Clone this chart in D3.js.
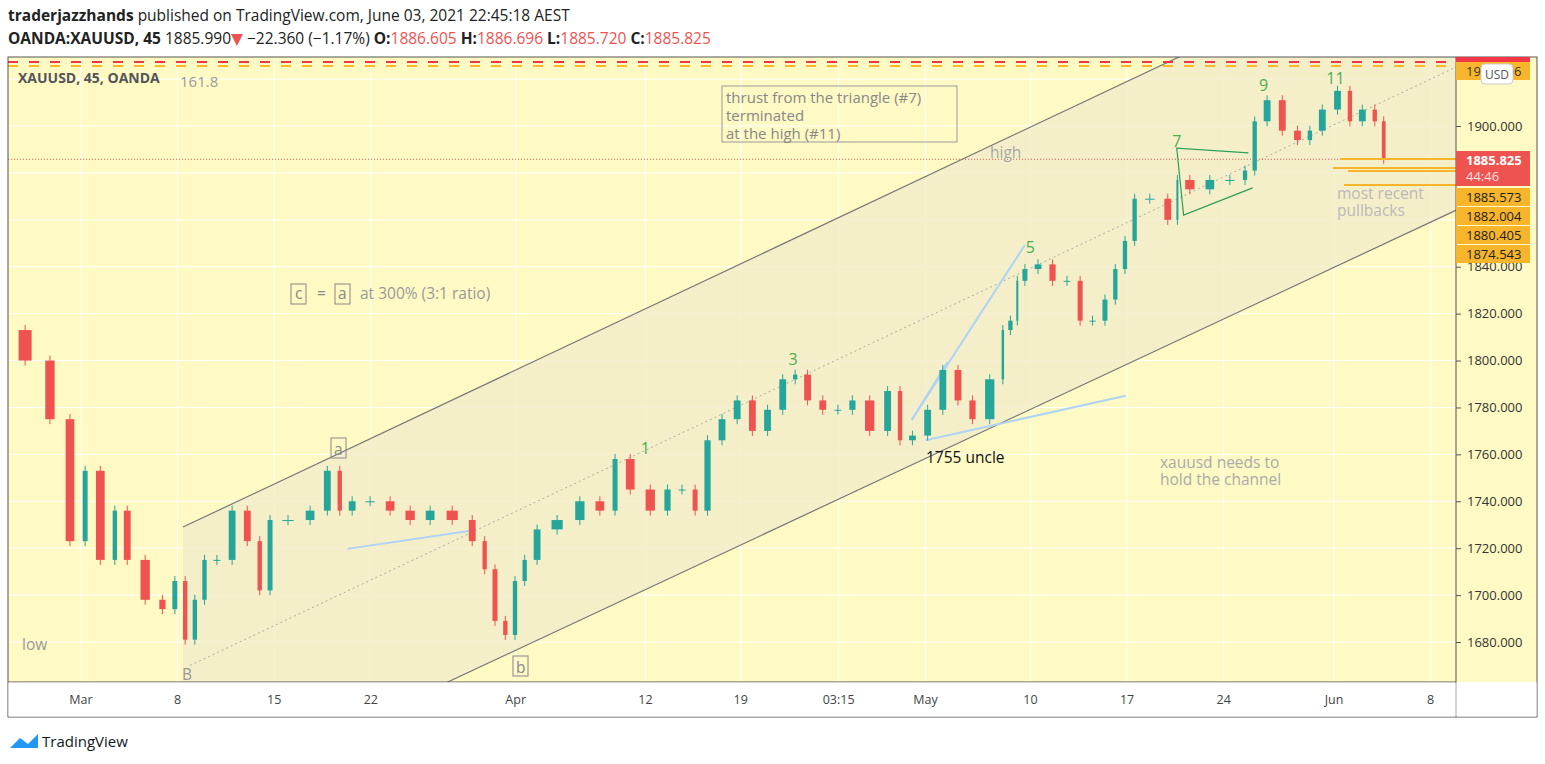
<!DOCTYPE html>
<html><head><meta charset="utf-8">
<script src="https://cdn.jsdelivr.net/npm/d3@7"></script>
<style>body{margin:0;background:#fff;font-family:"Open Sans","DejaVu Sans",sans-serif}</style>
</head><body><svg id="c" width="1545" height="764"></svg>
<script>
// days since Mar 1 (trading-time axis), close prices
const times=[-5.1,-3.0,-1.5,-0.1,0.7,2.1,2.8,3.9,5.4,6.4,7.2,7.9,8.6,9.3,10.4,11.5,12.6,13.3,14.1,15.9,17.3,18.4,19.1,20.2,21.7,23.1,24.6,26.0,27.8,28.9,29.6,30.4,31.1,31.8,32.5,33.6,35.4,36.9,38.3,39.1,40.5,42.0,43.0,44.1,44.9,45.9,47.0,48.1,49.2,50.3,51.4,52.1,53.2,54.3,55.4,56.4,57.9,59.0,59.7,60.8,61.9,63.0,64.1,65.1,66.6,67.0,67.7,68.0,68.8,69.9,70.9,72.0,72.8,73.8,74.6,75.3,76.0,76.7,78.2,79.3,79.6,81.1,82.5,84.0,84.7,85.4,86.5,87.6,88.7,89.4,90.5,91.6,92.3,93.4,94.1,94.7];
const closes=[1813,1800,1775,1723,1753,1715,1736,1715,1698,1694,1706,1681,1698,1715,1715,1736,1723,1702,1732,1732,1736,1753,1736,1740,1740,1736,1732,1736,1732,1723,1711,1689,1683,1706,1715,1728,1732,1740,1736,1758,1745,1736,1745,1745,1736,1766,1775,1783,1770,1779,1792,1794,1783,1779,1779,1783,1770,1787,1766,1768,1779,1796,1783,1775,1792,1813,1817,1834,1839,1841,1834,1834,1817,1817,1826,1839,1851,1869,1869,1860,1877,1873,1877,1877,1881,1902,1911,1898,1894,1898,1907,1915,1902,1907,1902,1886];
const yTicks=[1680,1700,1720,1740,1760,1780,1800,1820,1840,1900];
const xTickPos=[0,7,14,21,31.5,40.9,47.8,54.9,61.2,68.8,75.8,82.8,90.8,97.8];
const xTickLabels=["Mar","8","15","22","Apr","12","19","03:15","May","10","17","24","Jun","8"];
const levelPrices=[1885.573,1882.004,1880.405,1874.543];
const levelLabels=["1885.573","1882.004","1880.405","1874.543"];
const waveLabels=["1","3","5","7","9","11"];
const waveT=[40.9,51.6,68.8,79.4,85.7,90.9];
const waveP=[1760,1798,1846,1891,1915,1918];

const svg=d3.select("#c");
const L=8,R=1456,T=57,B=682;
const x=d3.scaleLinear().domain([0,100]).range([81,81+1380]);
const y=d3.scaleLinear().domain([1680,1900]).range([642,126]);
svg.append("rect").attr("x",L).attr("y",T).attr("width",1537-L).attr("height",B-T).attr("fill","#fff9c4");
svg.append("defs").append("clipPath").attr("id","cp").append("rect").attr("x",L).attr("y",T).attr("width",R-L).attr("height",B-T);
const g=svg.append("g").attr("clip-path","url(#cp)");
yTicks.concat([1860,1880,1920]).forEach(v=>g.append("line").attr("x1",L).attr("x2",R).attr("y1",y(v)).attr("y2",y(v)).attr("stroke","#fff"));
xTickPos.forEach(v=>g.append("line").attr("x1",x(v)).attr("x2",x(v)).attr("y1",T).attr("y2",B).attr("stroke","#fff"));
const up=t=>1729+(t-7.39)*2.777, lo=t=>1663+(t-26.6)*2.753;
const t0=7.39,t1=110;
g.append("path").attr("d",d3.line()([[x(t0),y(up(t0))],[x(t1),y(up(t1))],[x(t1),y(lo(t1))],[x(t0),y(lo(t0))]])+"Z").attr("fill","#f2ecca").attr("opacity",0.8);
g.append("line").attr("x1",x(t0)).attr("y1",y(up(t0))).attr("x2",x(t1)).attr("y2",y(up(t1))).attr("stroke","#787878").attr("stroke-width",1.2);
g.append("line").attr("x1",x(t0)).attr("y1",y(lo(t0))).attr("x2",x(t1)).attr("y2",y(lo(t1))).attr("stroke","#787878").attr("stroke-width",1.2);
g.append("line").attr("x1",x(7.9)).attr("y1",y(1670)).attr("x2",x(99.6)).attr("y2",y(1925)).attr("stroke","#aaa").attr("stroke-dasharray","2,3");
g.append("line").attr("x1",L).attr("x2",R).attr("y1",y(1927.3)).attr("y2",y(1927.3)).attr("stroke","#f23645").attr("stroke-width",2).attr("stroke-dasharray","10,11");
g.append("line").attr("x1",L).attr("x2",R).attr("y1",y(1925.6)).attr("y2",y(1925.6)).attr("stroke","#fbb829").attr("stroke-width",2).attr("stroke-dasharray","10,11");
g.append("line").attr("x1",L).attr("x2",R).attr("y1",y(1885.825)).attr("y2",y(1885.825)).attr("stroke","#ef5350").attr("stroke-dasharray","1,2");
[[19.3,1719.7,28.6,1727.8],[60.2,1774.7,68.4,1849.3],[60.2,1774.7,62.8,1799.4],[61.2,1766,75.7,1785]].forEach(a=>g.append("line").attr("x1",x(a[0])).attr("y1",y(a[1])).attr("x2",x(a[2])).attr("y2",y(a[3])).attr("stroke","#aed3f5").attr("stroke-width",2));
for(let i=1;i<times.length;i++){
  const o=closes[i-1],c=closes[i],xm=x((times[i-1]+times[i])/2),w=Math.max(2,(x(times[i])-x(times[i-1]))*0.45);
  const col=c>=o?"#26a69a":"#ef5350";
  g.append("line").attr("x1",xm).attr("x2",xm).attr("y1",y(Math.max(o,c))-5).attr("y2",y(Math.min(o,c))+5).attr("stroke",col);
  g.append("rect").attr("x",xm-w/2).attr("width",w).attr("y",y(Math.max(o,c))).attr("height",Math.max(1,Math.abs(y(o)-y(c)))).attr("fill",col);
}
g.append("path").attr("d",d3.line()([[x(84.6),y(1888.5)],[x(79.4),y(1890.6)],[x(79.9),y(1862)],[x(84.9),y(1873.6)]])).attr("fill","none").attr("stroke","#2e9e5a").attr("stroke-width",1.2);
const lvY=[159,168,171,185];
[[1340,0],[1333,1],[1348,2],[1344,3]].forEach(([sx,i])=>g.append("line").attr("x1",sx).attr("x2",R).attr("y1",lvY[i]).attr("y2",lvY[i]).attr("stroke","#f7b52c").attr("stroke-width",2));
const txt=(t,px,py,o)=>{const e=g.append("text").attr("x",px).attr("y",py).text(t).attr("font-size",(o&&o.s)||15.5).attr("fill",(o&&o.c)||"#9c9c9c");if(o&&o.w)e.attr("font-weight",o.w);return e;};
txt("XAUUSD, 45, OANDA",18,83,{c:"#555",w:"bold",s:14});
txt("161.8",180,87,{s:15});
waveLabels.forEach((l,i)=>g.append("text").attr("x",x(waveT[i])).attr("y",y(waveP[i])).attr("text-anchor","middle").attr("font-size",16).attr("fill","#4caf50").text(l));
g.append("rect").attr("x",722).attr("y",86).attr("width",235).attr("height",56).attr("fill","none").attr("stroke","#999");
["thrust from the triangle (#7)","terminated","at the high (#11)"].forEach((s,i)=>txt(s,726,103+i*18,{c:"#888",s:15}));
txt("high",990,158,{c:"#a8a8a8"});
txt("c",295,299,{c:"#888"});txt("=",317,299,{c:"#888"});txt("a",338,299,{c:"#888"});txt("at 300% (3:1 ratio)",360,299,{c:"#999"});
[[291,284],[335,284],[331,438],[513,656]].forEach(([a,b])=>g.append("rect").attr("x",a).attr("y",b).attr("width",15).attr("height",20).attr("fill","none").attr("stroke","#888"));
txt("a",334,455,{c:"#888"});txt("b",516,673,{c:"#888"});
txt("low",22,650,{c:"#999"});txt("B",182,680,{c:"#999"});
txt("1755 uncle",926,463,{c:"#111"});
txt("xauusd needs to",1160,468,{c:"#aaa"});txt("hold the channel",1160,485,{c:"#aaa"});
txt("most recent",1337,199,{c:"#b9b9b9"});txt("pullbacks",1337,216,{c:"#b9b9b9"});
svg.append("rect").attr("x",L).attr("y",T).attr("width",1537-L).attr("height",717-T).attr("fill","none").attr("stroke","#555");
svg.append("line").attr("x1",R).attr("x2",R).attr("y1",T).attr("y2",717).attr("stroke","#555");
svg.append("line").attr("x1",L).attr("x2",R).attr("y1",B).attr("y2",B).attr("stroke","#555");
svg.append("rect").attr("x",L+0.5).attr("y",B+0.5).attr("width",R-L-1).attr("height",717-B-1).attr("fill","#fff");
svg.append("rect").attr("x",R+0.5).attr("y",B+0.5).attr("width",1537-R-1).attr("height",717-B-1).attr("fill","#fff");
const ya=svg.append("g").attr("transform",`translate(${R},0)`).call(d3.axisRight(y).tickValues(yTicks).tickFormat(d3.format(".3f")).tickSize(5).tickPadding(6));
ya.select(".domain").remove();ya.selectAll("text").attr("font-size",13).attr("fill","#333").attr("font-family","Open Sans, DejaVu Sans");
ya.selectAll("line").attr("stroke","#555");
xTickPos.forEach((v,i)=>svg.append("text").attr("x",x(v)).attr("y",704).attr("text-anchor","middle").attr("font-size",12.5).attr("fill","#444").text(xTickLabels[i]));
svg.append("rect").attr("x",R).attr("y",57).attr("width",74).attr("height",5).attr("fill","#f23645");
svg.append("rect").attr("x",R).attr("y",62).attr("width",74).attr("height",18).attr("fill","#f7b52c");
svg.append("text").attr("x",R+10).attr("y",76).attr("font-size",13).attr("fill","#333").text("1925.606");
svg.append("rect").attr("x",1481).attr("y",64).attr("width",32).attr("height",20).attr("rx",4).attr("fill","#fff").attr("stroke","#ccc");
svg.append("text").attr("x",1497).attr("y",79).attr("text-anchor","middle").attr("font-size",12).attr("fill","#555").text("USD");
svg.append("rect").attr("x",R).attr("y",151).attr("width",74).attr("height",35).attr("fill","#ef5350");
svg.append("text").attr("x",R+10).attr("y",165).attr("font-size",13).attr("font-weight","bold").attr("fill","#fff").text("1885.825");
svg.append("text").attr("x",R+10).attr("y",181).attr("font-size",13).attr("fill","#fde0e0").text("44:46");
levelLabels.forEach((l,i)=>{const cy=[197,216,235,254][i];svg.append("rect").attr("x",R).attr("y",cy-9).attr("width",74).attr("height",18).attr("fill","#f7b52c");svg.append("text").attr("x",R+10).attr("y",cy+5).attr("font-size",13).attr("fill","#222").text(l);});
const h1=svg.append("text").attr("x",8).attr("y",21).attr("font-size",15.5).attr("fill","#222");
h1.append("tspan").attr("font-weight","bold").text("traderjazzhands");h1.append("tspan").text(" published on TradingView.com, June 03, 2021 22:45:18 AEST");
const h2=svg.append("text").attr("x",8).attr("y",44).attr("font-size",15.5).attr("fill","#222");
h2.append("tspan").attr("font-weight","bold").text("OANDA:XAUUSD, 45 ");h2.append("tspan").text(" 1885.990");
h2.append("tspan").attr("fill","#ef5350").text("▼");h2.append("tspan").text(" −22.360 (−1.17%) ");
[["O:","1886.605"],["H:","1886.696"],["L:","1885.720"],["C:","1885.825"]].forEach(([a,b])=>{h2.append("tspan").attr("font-weight","bold").text(a);h2.append("tspan").attr("fill","#ef5350").text(b+" ");});
svg.append("path").attr("d","M10 748 L20 738 L28 744 L38 734 L38 748 Z").attr("fill","#2196f3");
svg.append("text").attr("x",42).attr("y",747).attr("font-size",15).attr("fill","#131722").text("TradingView");
</script></body></html>
